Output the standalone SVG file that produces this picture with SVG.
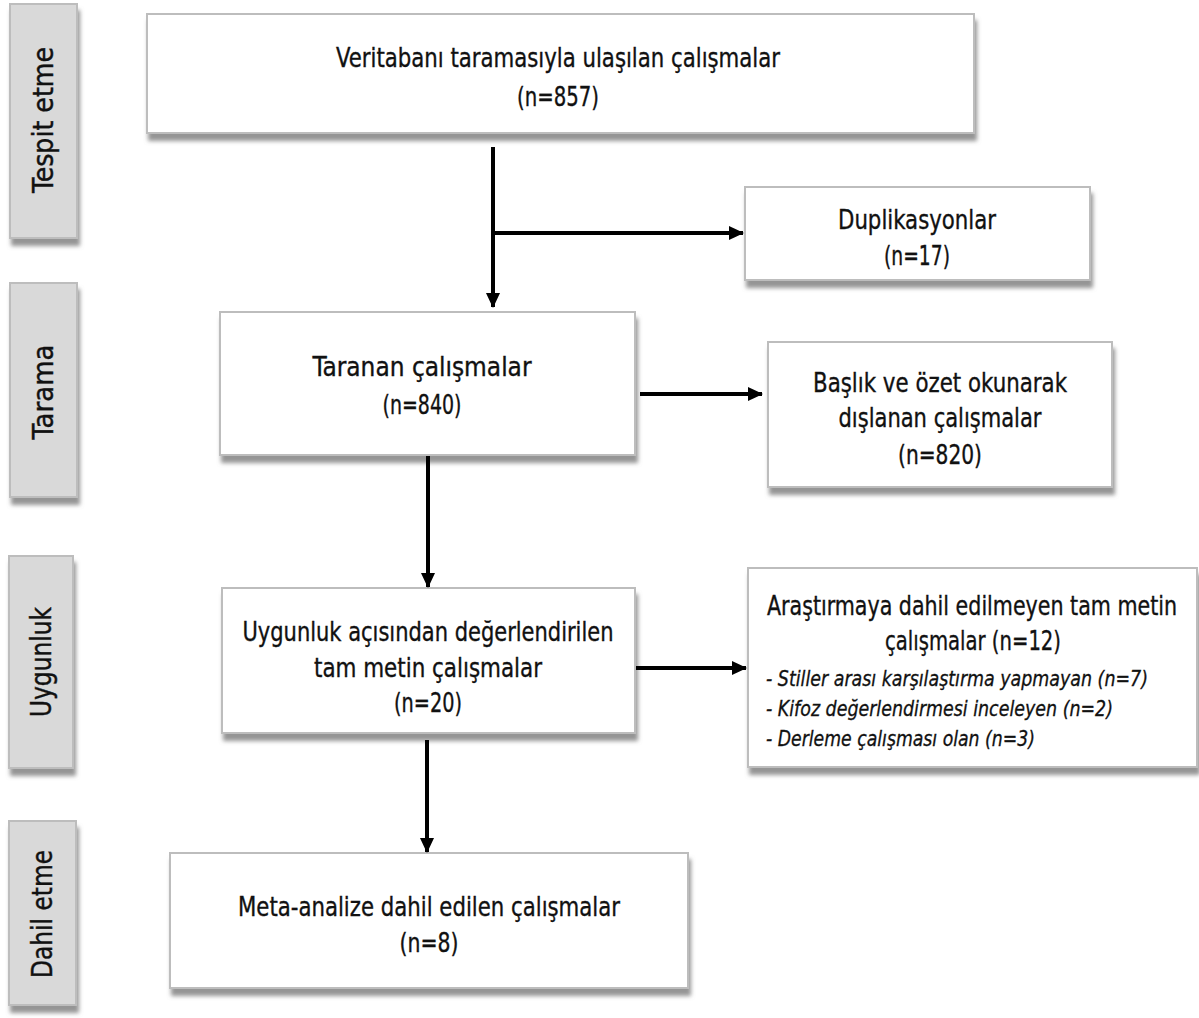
<svg xmlns="http://www.w3.org/2000/svg" width="1199" height="1018" viewBox="0 0 1199 1018">
<style>
  .box { fill: #ffffff; stroke: #bdbdbd; stroke-width: 2; filter: url(#shadow); }
  .side { fill: #d9d9d9; stroke: #bdbdbd; stroke-width: 2; filter: url(#shadow); }
  .t { font-family: "DejaVu Sans Condensed", "Liberation Sans Narrow", "Liberation Sans", sans-serif; font-size: 27px; fill: #111; stroke: #111; stroke-width: 0.35; text-anchor: middle; }
  .s { font-family: "DejaVu Sans Condensed", "Liberation Sans Narrow", "Liberation Sans", sans-serif; font-size: 28px; fill: #111; stroke: #111; stroke-width: 0.4; text-anchor: middle; }
  .i { font-family: "DejaVu Sans Condensed", "Liberation Sans Narrow", "Liberation Sans", sans-serif; font-size: 21px; font-style: italic; fill: #111; stroke: #111; stroke-width: 0.3; }
  .c { stroke: #000; stroke-width: 4; fill: none; marker-end: url(#arr); }
</style>
<defs>
  <filter id="shadow" x="-10%" y="-10%" width="130%" height="140%">
    <feDropShadow dx="2" dy="7" stdDeviation="2" flood-color="#7a7a7a" flood-opacity="0.8"/>
  </filter>
  <marker id="arr" markerUnits="userSpaceOnUse" markerWidth="16" markerHeight="16" refX="14" refY="8" orient="auto">
    <path d="M0,1 L15,8 L0,15 Z" fill="#000"/>
  </marker>
</defs>
<rect width="1199" height="1018" fill="#ffffff"/>

<g id="side-tespit">
  <rect class="side" x="10" y="4" width="67" height="234"/>
  <text class="s" transform="translate(53,120) rotate(-90)" textLength="146" lengthAdjust="spacingAndGlyphs">Tespit etme</text>
</g>
<g id="side-tarama">
  <rect class="side" x="10" y="283" width="67" height="214"/>
  <text class="s" transform="translate(53,392) rotate(-90)" textLength="95" lengthAdjust="spacingAndGlyphs">Tarama</text>
</g>
<g id="side-uygunluk">
  <rect class="side" x="9" y="556" width="64" height="212"/>
  <text class="s" transform="translate(51,662) rotate(-90)" textLength="110" lengthAdjust="spacingAndGlyphs">Uygunluk</text>
</g>
<g id="side-dahil">
  <rect class="side" x="9" y="821" width="67" height="184"/>
  <text class="s" transform="translate(52,914) rotate(-90)" textLength="128" lengthAdjust="spacingAndGlyphs">Dahil etme</text>
</g>

<g id="node-veritabani">
  <rect class="box" x="147" y="14" width="827" height="119"/>
  <text class="t" x="558" y="67" textLength="444" lengthAdjust="spacingAndGlyphs">Veritabanı taramasıyla ulaşılan çalışmalar</text>
  <text class="t" x="558" y="106" textLength="82" lengthAdjust="spacingAndGlyphs">(n=857)</text>
</g>
<g id="node-duplikasyon">
  <rect class="box" x="745" y="187" width="345" height="93"/>
  <text class="t" x="917" y="229" textLength="158" lengthAdjust="spacingAndGlyphs">Duplikasyonlar</text>
  <text class="t" x="917" y="265" textLength="66" lengthAdjust="spacingAndGlyphs">(n=17)</text>
</g>
<g id="node-taranan">
  <rect class="box" x="220" y="312" width="415" height="143"/>
  <text class="t" x="422" y="376" textLength="219" lengthAdjust="spacingAndGlyphs">Taranan çalışmalar</text>
  <text class="t" x="422" y="414" textLength="79" lengthAdjust="spacingAndGlyphs">(n=840)</text>
</g>
<g id="node-baslik">
  <rect class="box" x="768" y="342" width="344" height="145"/>
  <text class="t" x="940" y="392" textLength="254" lengthAdjust="spacingAndGlyphs">Başlık ve özet okunarak</text>
  <text class="t" x="940" y="427" textLength="203" lengthAdjust="spacingAndGlyphs">dışlanan çalışmalar</text>
  <text class="t" x="940" y="464" textLength="84" lengthAdjust="spacingAndGlyphs">(n=820)</text>
</g>
<g id="node-uygunluk">
  <rect class="box" x="222" y="588" width="413" height="145"/>
  <text class="t" x="428" y="641" textLength="371" lengthAdjust="spacingAndGlyphs">Uygunluk açısından değerlendirilen</text>
  <text class="t" x="428" y="677" textLength="228" lengthAdjust="spacingAndGlyphs">tam metin çalışmalar</text>
  <text class="t" x="428" y="712" textLength="68" lengthAdjust="spacingAndGlyphs">(n=20)</text>
</g>
<g id="node-arastirma">
  <rect class="box" x="748" y="568" width="449" height="199"/>
  <text class="t" x="972" y="615" textLength="410" lengthAdjust="spacingAndGlyphs">Araştırmaya dahil edilmeyen tam metin</text>
  <text class="t" x="973" y="650" textLength="176" lengthAdjust="spacingAndGlyphs">çalışmalar (n=12)</text>
  <text class="i" x="766" y="686" textLength="382" lengthAdjust="spacingAndGlyphs">- Stiller arası karşılaştırma yapmayan (n=7)</text>
  <text class="i" x="766" y="716" textLength="347" lengthAdjust="spacingAndGlyphs">- Kifoz değerlendirmesi inceleyen (n=2)</text>
  <text class="i" x="766" y="746" textLength="269" lengthAdjust="spacingAndGlyphs">- Derleme çalışması olan (n=3)</text>
</g>
<g id="node-meta">
  <rect class="box" x="170" y="853" width="518" height="135"/>
  <text class="t" x="429" y="916" textLength="382" lengthAdjust="spacingAndGlyphs">Meta-analize dahil edilen çalışmalar</text>
  <text class="t" x="429" y="952" textLength="59" lengthAdjust="spacingAndGlyphs">(n=8)</text>
</g>

<g id="connectors">
  <path class="c" d="M493,147 L493,307"/>
  <path class="c" d="M495,233 L743,233"/>
  <path class="c" d="M640,394 L762,394"/>
  <path class="c" d="M428,456 L428,587"/>
  <path class="c" d="M636,668 L746,668"/>
  <path class="c" d="M427,740 L427,852"/>
</g>
</svg>
